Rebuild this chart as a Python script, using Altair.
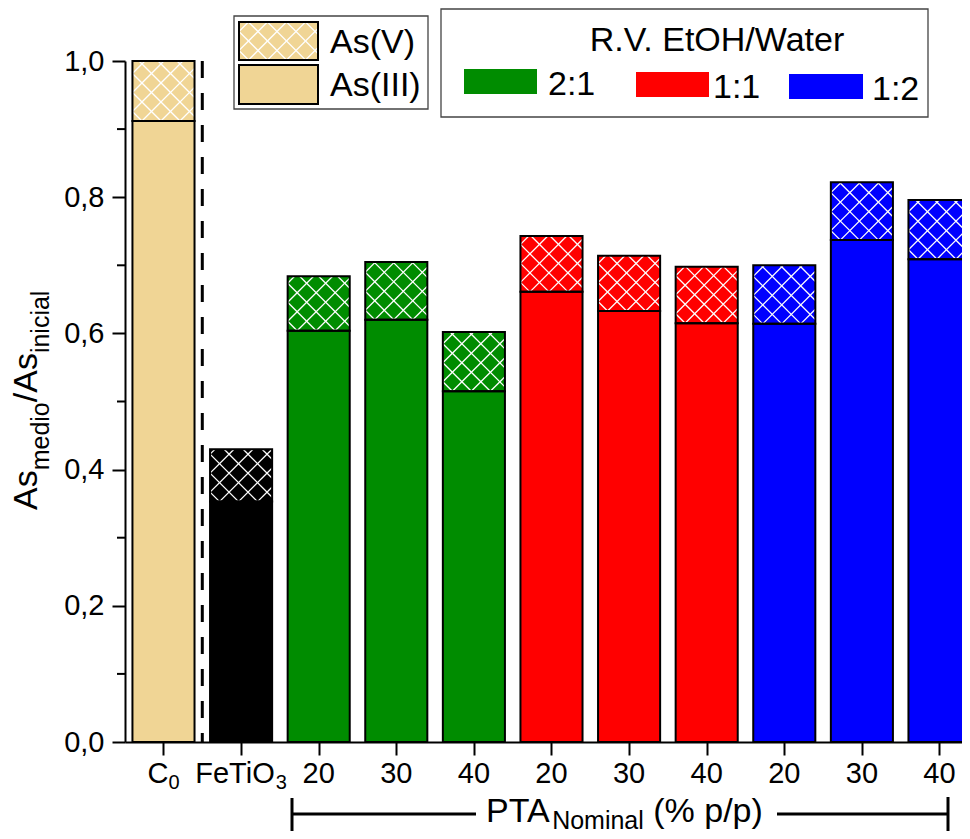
import math
import altair as alt
import pandas as pd

# ------------------------------------------------------------------ data
label_main = ["C", "FeTiO", "20", "30", "40", "20", "30", "40", "20", "30", "40"]
label_sub = ["0", "3", "", "", "", "", "", "", "", "", ""]
series = ["C0", "FeTiO3", "2:1", "2:1", "2:1", "1:1", "1:1", "1:1", "1:2", "1:2", "1:2"]
as_iii = [0.912, 0.353, 0.604, 0.620, 0.515, 0.661, 0.633, 0.615, 0.614, 0.737, 0.709]
as_total = [1.000, 0.430, 0.684, 0.705, 0.602, 0.743, 0.714, 0.698, 0.700, 0.822, 0.796]
y_major = [0.0, 0.2, 0.4, 0.6, 0.8, 1.0]
y_minor = [0.1, 0.3, 0.5, 0.7, 0.9]
ratio_names = ["2:1", "1:1", "1:2"]
species_names = ["As(V)", "As(III)"]

# ------------------------------------------------------------------ style
FILL = {"C0": "#F0D595", "FeTiO3": "#000000", "2:1": "#008C00",
        "1:1": "#FF0000", "1:2": "#0000FF"}
FONT = "Liberation Sans"
W, H = 837, 681
STEP = 77.6
X0 = -0.496
X1 = X0 + W / STEP
HALF = 0.4
HATCH = 19.0
TICK_FS, SUB_FS = 29, 20
TITLE_FS, TSUB_FS = 34, 25
LEG_FS = 34

ADV = {"A": .667, "s": .5, "m": .833, "e": .556, "d": .556, "i": .222, "o": .556,
       "/": .278, "n": .556, "c": .5, "a": .556, "l": .222, "P": .667, "T": .611,
       "N": .722, "(": .333, ")": .333, "%": .889, " ": .278, "p": .556,
       "C": .722, "F": .611, "O": .778}


def text_w(s, size):
    return sum(ADV.get(ch, 0.556) for ch in s) * size


def hatch(w, h, s=HATCH):
    """cross-hatch segments inside a w x h pixel box (y up)"""
    segs = []
    for k in range(math.floor(-h / s) - 1, math.ceil(w / s) + 2):
        c = k * s + s / 2
        lo, hi = max(0.0, c), min(w, h + c)
        if hi - lo > 0.3:
            segs.append((lo, lo - c, hi, hi - c))
    for k in range(-1, math.ceil((w + h) / s) + 2):
        c = k * s + s / 2
        lo, hi = max(0.0, c - h), min(w, c)
        if hi - lo > 0.3:
            segs.append((lo, c - lo, hi, c - hi))
    return segs


# ------------------------------------------------------------------ tables
rect_rows, hatch_rows, lab_rows, sub_rows = [], [], [], []
for i in range(len(series)):
    xl, xr = i - HALF, i + HALF
    col = FILL[series[i]]
    rect_rows.append(dict(x1=xl, x2=xr, y1=0.0, y2=as_iii[i], fill=col))
    rect_rows.append(dict(x1=xl, x2=xr, y1=as_iii[i], y2=as_total[i], fill=col))
    w = (xr - xl) * STEP
    h = (as_total[i] - as_iii[i]) * H
    for a, b, c, d in hatch(w, h):
        hatch_rows.append(dict(x1=xl + a / STEP, y1=as_iii[i] + b / H,
                               x2=xl + c / STEP, y2=as_iii[i] + d / H))
    mw = text_w(label_main[i], TICK_FS)
    sw = text_w(label_sub[i], SUB_FS)
    start = -(mw + sw) / 2
    lab_rows.append(dict(x=i + start / STEP, t=label_main[i]))
    if label_sub[i]:
        sub_rows.append(dict(x=i + (start + mw) / STEP, t=label_sub[i]))

rects = pd.DataFrame(rect_rows)
hatches = pd.DataFrame(hatch_rows)

xscale = alt.Scale(domain=[X0, X1], nice=False, zero=False)
yscale = alt.Scale(domain=[0, 1], nice=False, zero=True)
AX_X = alt.Axis(values=list(range(len(series))), labels=False, tickSize=13,
                tickWidth=2, tickColor="black", domainColor="black",
                domainWidth=2, grid=False, title=None)
AX_Y = alt.Axis(values=y_major, labelExpr="replace(format(datum.value, '.1f'), '.', ',')",
                tickSize=13, tickWidth=2, tickColor="black", domainColor="black",
                domainWidth=2, grid=False, title=None, labelFont=FONT,
                labelFontSize=TICK_FS, labelColor="black", labelPadding=8)


def X(field):
    return alt.X(field, scale=xscale, axis=AX_X)


def Y(field):
    return alt.Y(field, scale=yscale, axis=AX_Y)


bars_fill = alt.Chart(rects).mark_rect(strokeWidth=0).encode(
    x=X("x1:Q"), x2="x2:Q", y=Y("y1:Q"), y2="y2:Q",
    fill=alt.Fill("fill:N", scale=None))

hatch_layer = alt.Chart(hatches).mark_rule(color="white", strokeWidth=1.3).encode(
    x=X("x1:Q"), x2="x2:Q", y=Y("y1:Q"), y2="y2:Q")

bars_stroke = alt.Chart(rects).mark_rect(fillOpacity=0, stroke="black",
                                         strokeWidth=2).encode(
    x=X("x1:Q"), x2="x2:Q", y=Y("y1:Q"), y2="y2:Q")

minor = alt.Chart(pd.DataFrame({"v": y_minor})).mark_rule(color="black", strokeWidth=2).encode(
    y=Y("v:Q"), x=alt.value(-8), x2=alt.value(0))

sep = alt.Chart(pd.DataFrame({"x": [0.5], "y1": [1.0], "y2": [0.0]})).mark_rule(
    color="black", strokeWidth=3, strokeDash=[17, 15]).encode(
    x=X("x:Q"), y=Y("y1:Q"), y2="y2:Q")

xlab = alt.Chart(pd.DataFrame(lab_rows)).mark_text(
    align="left", baseline="alphabetic", font=FONT, fontSize=TICK_FS, color="black").encode(
    x=X("x:Q"), y=alt.value(H + 41), text="t:N")
xsub = alt.Chart(pd.DataFrame(sub_rows)).mark_text(
    align="left", baseline="alphabetic", font=FONT, fontSize=SUB_FS, color="black").encode(
    x=X("x:Q"), y=alt.value(H + 47), text="t:N")

# ---------------------------------------------------------------- legends (pixel space)
box_rows = [dict(x1=109, x2=303, y1=-45, y2=48), dict(x1=316, x2=803, y1=-52, y2=56)]
boxes = alt.Chart(pd.DataFrame(box_rows)).mark_rect(fill="white", stroke="#444444",
                                                   strokeWidth=1.3).encode(
    x=alt.X("x1:Q", scale=None, axis=None), x2="x2:Q",
    y=alt.Y("y1:Q", scale=None, axis=None), y2="y2:Q")

sw_rows = [dict(x1=114, x2=193, y1=-39, y2=-1, fill=FILL["C0"]),
           dict(x1=114, x2=193, y1=4, y2=43, fill=FILL["C0"])]
rv_sw = [(339, 412, 8, 33), (511, 584, 11, 36), (664, 738, 13, 38)]
rv_rows = [dict(x1=a, x2=b, y1=c, y2=d, fill=FILL[n]) for n, (a, b, c, d) in zip(ratio_names, rv_sw)]

sw_fill = alt.Chart(pd.DataFrame(sw_rows + rv_rows)).mark_rect(strokeWidth=0).encode(
    x=alt.X("x1:Q", scale=None, axis=None), x2="x2:Q",
    y=alt.Y("y1:Q", scale=None, axis=None), y2="y2:Q", fill=alt.Fill("fill:N", scale=None))

lh = []
for a, b, c, d in hatch(193 - 114, 38):
    lh.append(dict(x1=114 + a, y1=-1 - b, x2=114 + c, y2=-1 - d))
leg_hatch = alt.Chart(pd.DataFrame(lh)).mark_rule(color="white", strokeWidth=1.3).encode(
    x=alt.X("x1:Q", scale=None, axis=None), x2="x2:Q",
    y=alt.Y("y1:Q", scale=None, axis=None), y2="y2:Q")
sw_stroke = alt.Chart(pd.DataFrame(sw_rows)).mark_rect(fillOpacity=0, stroke="black",
                                                      strokeWidth=2).encode(
    x=alt.X("x1:Q", scale=None, axis=None), x2="x2:Q",
    y=alt.Y("y1:Q", scale=None, axis=None), y2="y2:Q")

leg_text_rows = [dict(x=205, y=-8, t=species_names[0]),
                 dict(x=205, y=35, t=species_names[1]),
                 dict(x=423, y=34, t=ratio_names[0]),
                 dict(x=588, y=37, t=ratio_names[1]),
                 dict(x=747, y=39, t=ratio_names[2])]
leg_text = alt.Chart(pd.DataFrame(leg_text_rows)).mark_text(
    align="left", baseline="alphabetic", font=FONT, fontSize=LEG_FS, color="black").encode(
    x=alt.X("x:Q", scale=None, axis=None), y=alt.Y("y:Q", scale=None, axis=None), text="t:N")
leg_title = alt.Chart(pd.DataFrame({"t": ["R.V. EtOH/Water"]})).mark_text(
    align="center", baseline="alphabetic", font=FONT, fontSize=LEG_FS, color="black").encode(
    x=alt.value(592), y=alt.value(-10), text="t:N")

# ---------------------------------------------------------------- bracket + x title
br_rows = [dict(x1=167, x2=351, y1=753, y2=753), dict(x1=167, x2=167, y1=737, y2=772),
           dict(x1=652, x2=823, y1=753, y2=753), dict(x1=823, x2=823, y1=736, y2=770)]
bracket = alt.Chart(pd.DataFrame(br_rows)).mark_rule(color="black", strokeWidth=3).encode(
    x=alt.X("x1:Q", scale=None, axis=None), x2="x2:Q",
    y=alt.Y("y1:Q", scale=None, axis=None), y2="y2:Q")

xt_x = 361
xt_parts = [("PTA", TITLE_FS, 0, 0), ("Nominal", TSUB_FS, 7, 0),
            ("(% p/p)", TITLE_FS, 0, text_w(" ", TITLE_FS))]
xt_layers = []
cx = xt_x
for txt, fs, dy, gap in xt_parts:
    cx += gap
    xt_layers.append(alt.Chart(pd.DataFrame({"t": [txt]})).mark_text(
        align="left", baseline="alphabetic", font=FONT, fontSize=fs, color="black").encode(
        x=alt.value(cx), y=alt.value(761 + dy), text="t:N"))
    cx += text_w(txt, fs)

# ---------------------------------------------------------------- y title (rotated)
yt_parts = [("As", TITLE_FS, 0), ("medio", TSUB_FS, 12), ("/As", TITLE_FS, 0),
            ("inicial", TSUB_FS, 12)]
yt_layers = []
cy = 449
for txt, fs, dx in yt_parts:
    yt_layers.append(alt.Chart(pd.DataFrame({"t": [txt]})).mark_text(
        align="left", baseline="alphabetic", angle=270, font=FONT, fontSize=fs,
        color="black").encode(x=alt.value(-88 + dx), y=alt.value(cy), text="t:N"))
    cy -= text_w(txt, fs)

chart = alt.layer(
    bars_fill, hatch_layer, bars_stroke, minor, sep, xlab, xsub,
    boxes, sw_fill, leg_hatch, sw_stroke, leg_text, leg_title, bracket,
    *xt_layers, *yt_layers,
).properties(
    width=W, height=H,
    background="white",
    autosize=alt.AutoSizeParams(type="none"),
    padding={"left": 117, "top": 53, "right": 0, "bottom": 89},
).configure_view(stroke="transparent", strokeWidth=0)

chart.save("out.html", embed_options={"renderer": "svg", "actions": False})
